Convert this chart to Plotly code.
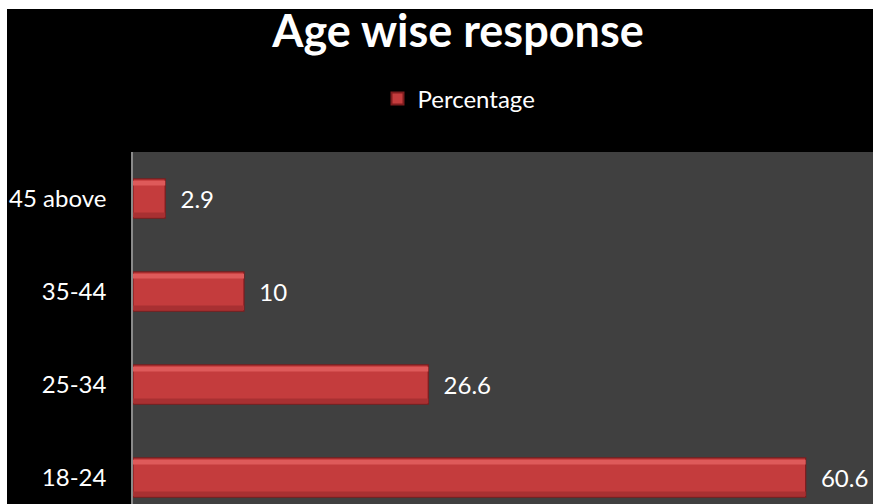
import plotly.graph_objects as go

categories = ["18-24", "25-34", "35-44", "45 above"]
percentage = [60.6, 26.6, 10, 2.9]
series_name = "Percentage"
title_text = "Age wise response"

W, H = 873, 504
L, T = 133, 152
PW, PH = W - L, H - T
FONT = "Lato, 'Open Sans', sans-serif"

def px_x(p):
    return (p - L) / PW

def px_y(p):
    return (H - p) / PH

fig = go.Figure()
fig.add_trace(go.Bar(
    y=categories, x=percentage, orientation="h", name=series_name,
    marker=dict(color="#c43c3d", line=dict(color="#7e1c1e", width=1.2)),
    width=0.42,
    text=[f"{v:g}" for v in percentage],
    texttemplate="  %{text}",
    textposition="outside",
    textfont=dict(color="white", size=24, family=FONT),
    cliponaxis=False,
))
# top highlight of the bevelled bar
fig.add_trace(go.Bar(
    y=categories, x=percentage, orientation="h", showlegend=False,
    marker=dict(color="#de5a5a", line=dict(width=0)),
    width=0.05, offset=0.14, hoverinfo="skip",
))
# bottom shade of the bevelled bar
fig.add_trace(go.Bar(
    y=categories, x=percentage, orientation="h", showlegend=False,
    marker=dict(color="#a83032", line=dict(width=0)),
    width=0.05, offset=-0.2, hoverinfo="skip",
))

fig.update_layout(
    width=W, height=H,
    margin=dict(l=L, r=0, t=T, b=0, pad=0),
    paper_bgcolor="black",
    plot_bgcolor="#404040",
    barmode="overlay",
    title=dict(text=f"<b>{title_text}</b>", x=458 / W, xanchor="center",
               y=1 - 31 / H, yanchor="middle",
               font=dict(color="white", size=45, family=FONT)),
    legend=dict(orientation="h", x=px_x(459), xanchor="center", y=px_y(99), yanchor="middle",
                font=dict(color="white", size=24, family=FONT), bgcolor="rgba(0,0,0,0)",
                itemsizing="constant"),
    xaxis=dict(range=[0, PW / 11.1], showgrid=False, zeroline=False, showticklabels=False,
               showline=False, fixedrange=True),
    yaxis=dict(type="category", categoryorder="array", categoryarray=categories,
               range=[3.5 - PH / 93.0, 3.5], showgrid=False, zeroline=False,
               showline=True, linecolor="#8a8a8a", linewidth=1.5,
               ticks="", ticklabelstandoff=20,
               tickfont=dict(color="white", size=24, family=FONT)),
    shapes=[
        dict(type="rect", xref="paper", yref="paper", x0=px_x(0), x1=px_x(7),
             y0=px_y(H), y1=px_y(0), fillcolor="white", line=dict(width=0), layer="above"),
        dict(type="rect", xref="paper", yref="paper", x0=px_x(0), x1=px_x(W),
             y0=px_y(9), y1=px_y(0), fillcolor="white", line=dict(width=0), layer="above"),
    ],
)

fig.write_html("out.html")
